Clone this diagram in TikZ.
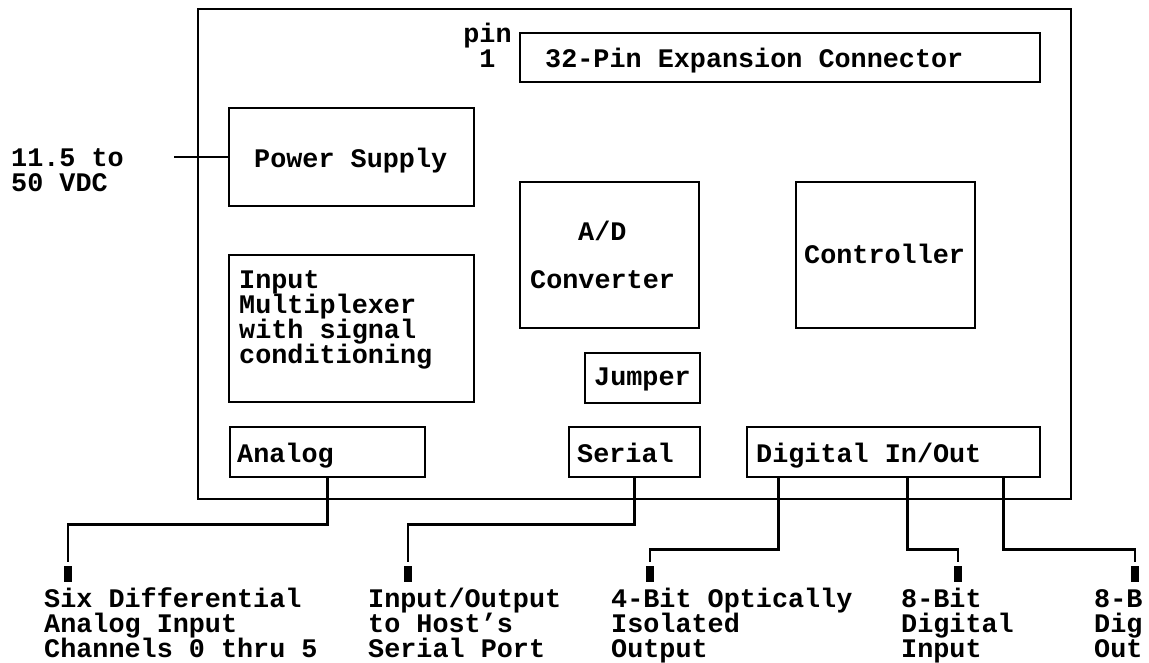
\documentclass[tikz,border=0pt]{standalone}
\usepackage{fontspec}
\usetikzlibrary{positioning}
\usetikzlibrary{calc}
\newfontfamily\boardfont{Liberation Mono}
\newcommand\boardtext{\boardfont\bfseries\fontsize{26.8}{25}\selectfont\lineskiplimit=-20pt\relax}
\tikzset{
    % Outlines of the blocks on the board
    box/.style={
        draw, rectangle, line width=2.6pt, inner sep=0},
    % Text is always set left, on the baseline of its last line
    label text/.style={
        font=\boardtext, anchor=base west, inner sep=0, align=left},
    % Next some lines
    wire/.style={draw, line width=2.6pt},
    feed/.style={draw, line width=1.3pt},
    pinblock/.style={
        fill, rectangle, inner sep=0, minimum width=8pt, minimum height=16pt},
}

\begin{document}
\begin{tikzpicture}[x=1pt, y=-1pt]
\useasboundingbox (0,0) rectangle (1149,662);

\path
    (634.5,254) node [box, minimum width=873, minimum height=490] (board) {}
    (780,57.5) node [box, minimum width=520, minimum height=49] (expconn) {}
    (351.5,157) node [box, minimum width=245, minimum height=98] (psu) {}
    (351.5,328.5) node [box, minimum width=245, minimum height=147] (mux) {}
    (609.5,255) node [box, minimum width=179, minimum height=146] (adc) {}
    (885.5,255) node [box, minimum width=179, minimum height=146] (ctrl) {}
    (642.5,378) node [box, minimum width=115, minimum height=50] (jumper) {}
    (327.5,452) node [box, minimum width=195, minimum height=50] (analog) {}
    (634.5,452) node [box, minimum width=131, minimum height=50] (serial) {}
    (893.5,452) node [box, minimum width=293, minimum height=50] (dio) {};

% Texts inside and beside the blocks
\node [label text, anchor=base, align=center] (pinone) at (487.5,67) {pin\\1};
\node [label text] (expconntext) at (545,67) {32-Pin Expansion Connector};
\node [label text] (vdc) at (11,191) {11.5 to\\50 VDC};
\node [label text] (psutext) at (254,167) {Power Supply};
\node [label text] (muxtext) at (239,363)
    {Input\\Multiplexer\\with signal\\conditioning};
\node [label text] (adctop) at (578,240) {A/D};
\node [label text] (adcbottom) at (530,288) {Converter};
\node [label text] (ctrltext) at (804,263) {Controller};
\node [label text] (jumpertext) at (594,385) {Jumper};
\node [label text] (analogtext) at (237,462) {Analog};
\node [label text] (serialtext) at (577,462) {Serial};
\node [label text] (diotext) at (756,462) {Digital In/Out};

% Connector pins at the bottom
\node [pinblock] (pai) at (68,574) {};
\node [pinblock] (pser) at (408,574) {};
\node [pinblock] (piso) at (650,574) {};
\node [pinblock] (pdin) at (958,574) {};
\node [pinblock] (pdout) at (1135,574) {};

\node [label text] (aitext) at (44,657)
    {Six Differential\\Analog Input\\Channels 0 thru 5};
\node [label text] (sertext) at (368,657)
    {Input/Output\\to Host’s\\Serial Port};
\node [label text] (isotext) at (611,657)
    {4-Bit Optically\\Isolated\\Output};
\node [label text] (dintext) at (901,657) {8-Bit\\Digital\\Input};
\node [label text] (douttext) at (1094,657) {8-B\\Dig\\Out};

% Supply input
\coordinate (vin) at (174,157);
\draw [feed] (vin) -- (psu.west);

% Lines out to the pins
\draw [wire, shorten >=4pt] (analog.south) -- ++(0,46) -| (pai.north);
\draw [wire, shorten >=4pt] (serial.south) -- ++(0,46) -| (pser.north);
\draw [wire, shorten >=4pt] ($(dio.south west)+(33,0)$) -- ++(0,71) -| (piso.north);
\draw [wire, shorten >=4pt] ($(dio.south west)+(162,0)$) -- ++(0,71) -| (pdin.north);
\draw [wire, shorten >=4pt] ($(dio.south west)+(258,0)$) -- ++(0,71) -| (pdout.north);

\end{tikzpicture}
\end{document}
